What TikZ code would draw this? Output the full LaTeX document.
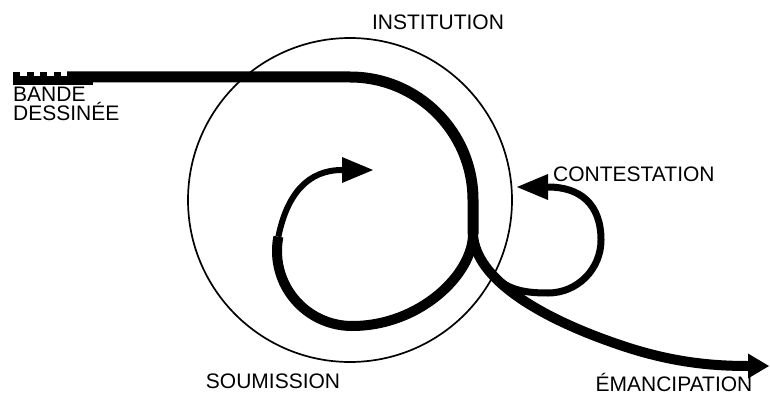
\documentclass[tikz,border=0pt]{standalone}
\usepackage{fontspec}
\setmainfont{Liberation Sans}
\usetikzlibrary{arrows.meta}
\tikzset{
  % thick strands of the spiral
  strand/.style={line width=#1, line cap=butt},
  strand/.default=10pt,
  % the thin ring
  ring/.style={line width=1.7pt},
  % filled heads
  head/.style={-{Triangle[length=#1, width=26pt, line width=0pt]}},
  head/.default=31pt,
  % labels
  tag/.style={font=\fontsize{21pt}{24pt}\selectfont, inner sep=0pt},
}

\begin{document}
\begin{tikzpicture}[x=1pt, y=1pt]
  \useasboundingbox (0,0) rectangle (770,394);

  % Ring
  \draw[ring] (350,194) circle[radius=162];

  % Key points
  \coordinate (bend) at (350,317);
  \coordinate (split) at (473,160);
  \coordinate (fork) at (495,118);

  % Main strand
  \draw[strand=11pt] (67,317) -- (bend) arc[start angle=90, end angle=0, radius=123] -- (split);
  \fill (13,309) rectangle (93,318);
  \foreach \x in {13,26.5,40,53.5}
    \fill (\x,318) rectangle ++(7,4);

  % Soumission loop
  \draw[strand=10pt] (split) .. controls (473,120) and (420,68) .. (352,68)
    arc[start angle=270, end angle=169, radius=75] coordinate (step);
  \draw[strand=6pt, head] (step) .. controls (287,200) and (308,224) .. (373,224);

  % Emancipation
  \draw[strand=10pt, -{Triangle[length=21pt, width=25pt, line width=0pt]}] (split)
    .. controls (475,115) and (540,76) .. (620,49)
    .. controls (670,32) and (710,28) .. (769,28);

  % Contestation loop
  \draw[strand=7pt, head] (fork) .. controls (508,103) and (528,101) .. (548,101)
    arc[start angle=270, end angle=360, radius=53]
    .. controls (601,190) and (580,207) .. (517,207);

  % Labels
  \node[tag, anchor=base] (institution) at (438,364) {INSTITUTION};
  \node[tag, anchor=base west] (bande) at (13,292) {BANDE};
  \node[tag, anchor=base west] (dessinee) at (13,273) {DESSINÉE};
  \node[tag, anchor=base west] (contestation) at (553,212) {CONTESTATION};
  \node[tag, anchor=base] (soumission) at (273,6) {SOUMISSION};
  \node[tag, anchor=base] (emancipation) at (674,3) {ÉMANCIPATION};
\end{tikzpicture}
\end{document}
